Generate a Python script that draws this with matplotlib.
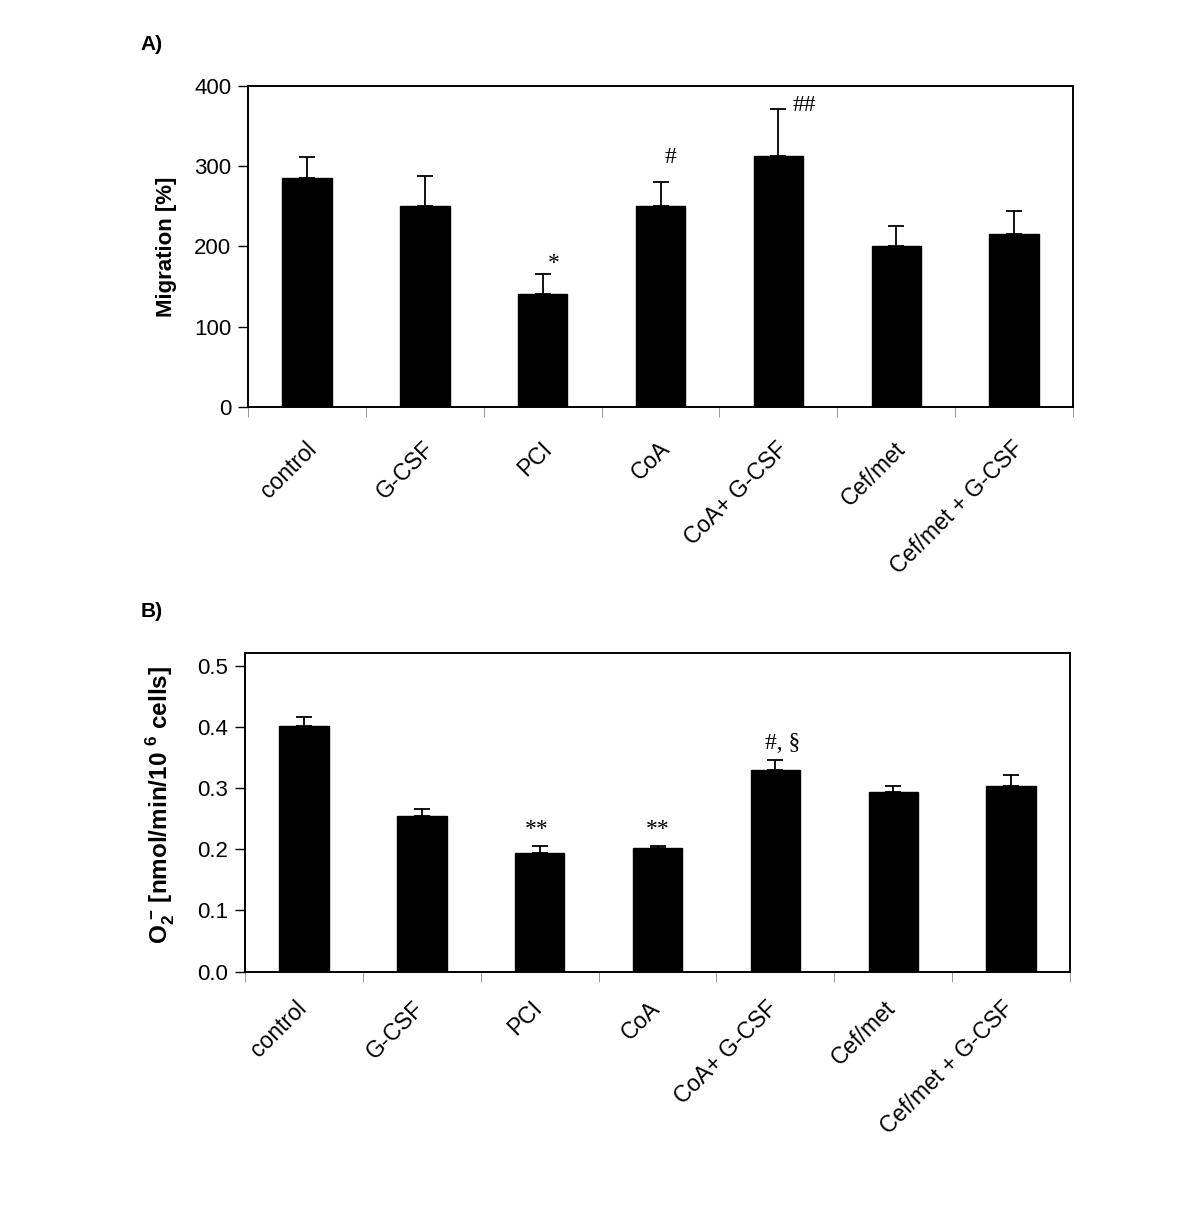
import matplotlib
matplotlib.use("Agg")
import matplotlib.pyplot as plt
import matplotlib.transforms as mtransforms

plt.rcParams["font.family"] = ["Liberation Sans", "DejaVu Sans"]
plt.rcParams["mathtext.fontset"] = "custom"
plt.rcParams["mathtext.rm"] = "Liberation Sans"
plt.rcParams["mathtext.bf"] = "Liberation Sans:bold"

groups = ["control", "G-CSF", "PCI", "CoA", "CoA+ G-CSF", "Cef/met", "Cef/met + G-CSF"]

migration = [285, 250, 141, 250, 313, 200, 216]
migration_err = [27, 38, 24, 30, 59, 25, 28]
migration_marks = {2: "*", 3: "#", 4: "##"}

superoxide = [0.401, 0.255, 0.194, 0.202, 0.329, 0.293, 0.304]
superoxide_err = [0.015, 0.011, 0.011, 0.003, 0.016, 0.010, 0.017]
superoxide_marks = {2: "**", 3: "**", 4: "#, \u00a7"}

fig = plt.figure(figsize=(12, 12.06), dpi=100)
ax_a = fig.add_axes([0.2067, 0.6628, 0.6875, 0.2658])
ax_b = fig.add_axes([0.2042, 0.1943, 0.6875, 0.2640])


def draw(ax, vals, errs, ylim, yticks, fmt, lab_pad, lab_shift):
    x = list(range(len(vals)))
    ax.bar(x, vals, width=0.42, color="black", edgecolor="black", zorder=2)
    ax.errorbar(x, vals, yerr=[[0] * len(errs), errs], fmt="none",
                ecolor="black", elinewidth=1.3, capsize=6, capthick=1.3, zorder=3)
    ax.set_xlim(-0.5, len(vals) - 0.5)
    ax.set_ylim(*ylim)
    ax.set_yticks(yticks)
    ax.set_yticklabels([fmt.format(t) for t in yticks])
    ax.tick_params(axis="y", direction="out", length=7, width=1, labelsize=16, pad=5)
    # boundary ticks without labels, group names at bar centres
    ax.set_xticks([i - 0.5 for i in range(len(vals) + 1)])
    ax.set_xticklabels([])
    ax.tick_params(axis="x", which="major", direction="out", length=7, width=0.6, color="#888888")
    ax.set_xticks(x, minor=True)
    ax.set_xticklabels(groups, minor=True, rotation=45, ha="right", va="top",
                       rotation_mode="anchor", fontsize=16.5)
    ax.tick_params(axis="x", which="minor", length=0, pad=lab_pad)
    shift = mtransforms.ScaledTranslation(lab_shift, 0, fig.dpi_scale_trans)
    for lab in ax.get_xticklabels(minor=True):
        lab.set_transform(lab.get_transform() + shift)
    for s in ax.spines.values():
        s.set_linewidth(1.4)


draw(ax_a, migration, migration_err, (0, 400), [0, 100, 200, 300, 400], "{:.0f}", 22, -0.02)
draw(ax_b, superoxide, superoxide_err, (0, 0.52), [0.0, 0.1, 0.2, 0.3, 0.4, 0.5], "{:.1f}", 18, -0.09)

ax_a.set_ylabel("Migration [%]", fontsize=16, fontweight="bold", labelpad=12)
ax_b.set_ylabel(r"O$_{\mathbf{2}}^{\ \mathbf{-}}$ [nmol/min/10 $^{\mathbf{6}}$ cells]",
                fontsize=17.5, fontweight="bold")
ax_b.yaxis.set_label_coords(-0.082, 0.525)

serif = ["Liberation Serif", "DejaVu Serif"]
# offsets (points) of each mark above its error bar top
offs_a = {"*": (8, 8), "#": (7, 18), "##": (10, 2)}
for i, m in migration_marks.items():
    top = migration[i] + migration_err[i]
    ha = "left" if m == "##" else "center"
    ax_a.annotate(m, (i, top), xytext=offs_a[m], textcoords="offset points",
                  ha=ha, va="center", fontsize=17, family=serif)
offs_b = {2: (-2, 12), 3: (0, 12), 4: (5, 12)}
for i, m in superoxide_marks.items():
    top = superoxide[i] + superoxide_err[i]
    ax_b.annotate(m, (i, top), xytext=offs_b[i], textcoords="offset points",
                  ha="center", va="center", fontsize=17, family=serif)

fig.text(0.117, 0.963, "A)", fontsize=15, fontweight="bold", ha="left", va="center")
fig.text(0.117, 0.493, "B)", fontsize=15, fontweight="bold", ha="left", va="center")

fig.savefig("out.png", dpi=100)
